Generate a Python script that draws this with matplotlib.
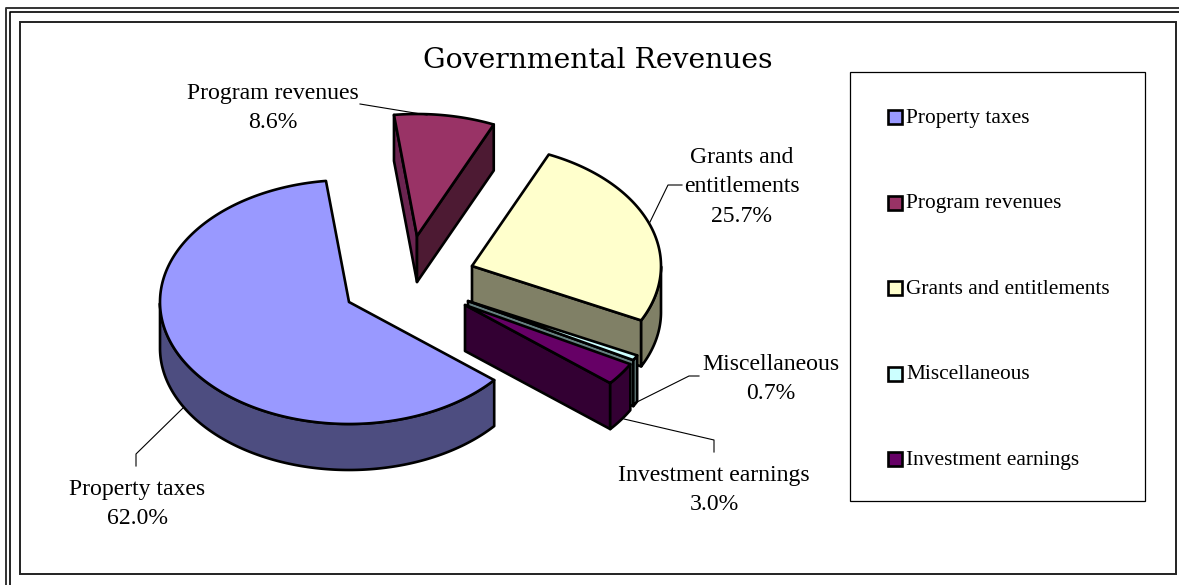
import numpy as np
import matplotlib
matplotlib.use("Agg")
import matplotlib.pyplot as plt
from matplotlib.patches import Polygon, Rectangle

# Dados
categorias = ["Property taxes", "Program revenues", "Grants and entitlements",
              "Miscellaneous", "Investment earnings"]
rotulos = ["Property taxes", "Program revenues", "Grants and\nentitlements",
           "Miscellaneous", "Investment earnings"]
valores = [62.0, 8.6, 25.7, 0.7, 3.0]

# Cores
cor_topo = ["#9999FF", "#993366", "#FFFFCC", "#CCFFFF", "#660066"]
cor_lado = ["#4D4D80", "#4D1A33", "#808066", "#668080", "#330033"]
cor_lado_esq = ["#4D4D80", "#6B2450", "#808066", "#668080", "#330033"]

# Geometria do pie (pixeis)
centros = [(349, 302), (417, 236), (472, 266), (468, 301), (465, 305)]
a = 189
b = 122
prof = 46
inicio = 97 + 223.2

# Posicao dos rotulos e linhas
pos_rotulos = [(137, 504), (273, 108), (742, 187), (771, 379), (714, 490)]
guias = [
    [(183, 408), (136, 454), (136, 466)],
    [(360, 104), (427, 115)],
    [(650, 222), (668, 185), (682, 185)],
    [(633, 404), (689, 376), (699, 376)],
    [(624, 419), (714, 440), (714, 452)],
]

fig = plt.figure(figsize=(11.79, 5.85), dpi=100)
ax = fig.add_axes([0, 0, 1, 1])
ax.set_xlim(0, 1179)
ax.set_ylim(585, 0)
ax.axis("off")
plt.rcParams["font.family"] = ["Liberation Serif"]


def ponto(c, t):
    return c[0] + a * np.cos(np.radians(t)), c[1] - b * np.sin(np.radians(t))


def poligono(xs, ys, cor):
    ax.add_patch(Polygon(np.column_stack([xs, ys]), closed=True, facecolor=cor,
                         edgecolor="black", linewidth=1.9, joinstyle="round"))


# Molduras
ax.plot([6, 6, 1179], [585, 8, 8], color="#333333", lw=1.4)
ax.plot([9.5, 9.5, 1179], [585, 11.5, 11.5], color="black", lw=1.2)
ax.add_patch(Rectangle((20, 22), 1156, 552, facecolor="white",
                       edgecolor="#222222", linewidth=1.4))

# Fatias (sentido horario)
ang = inicio
for i, v in enumerate(valores):
    alto = ang
    baixo = ang - v * 3.6
    ang = baixo
    c = centros[i]

    # face radial do lado alto
    if np.sin(np.radians(alto + 90)) < 0:
        x, y = ponto(c, alto)
        poligono([c[0], x, x, c[0]], [c[1], y, y + prof, c[1] + prof], cor_lado_esq[i])
    # face radial do lado baixo
    if np.sin(np.radians(baixo - 90)) < 0:
        x, y = ponto(c, baixo)
        poligono([c[0], x, x, c[0]], [c[1], y, y + prof, c[1] + prof], cor_lado[i])

    t = np.linspace(baixo, alto, 300)
    # parede exterior
    t_vis = t[np.sin(np.radians(t)) < 0]
    if len(t_vis) > 0:
        x, y = ponto(c, t_vis)
        poligono(np.r_[x, x[::-1]], np.r_[y, y[::-1] + prof], cor_lado[i])

    # topo
    x, y = ponto(c, t)
    poligono(np.r_[c[0], x], np.r_[c[1], y], cor_topo[i])

# Linhas guia
for g in guias:
    g = np.array(g)
    ax.plot(g[:, 0], g[:, 1], color="black", lw=0.8)

# Rotulos
for i, v in enumerate(valores):
    ax.text(pos_rotulos[i][0], pos_rotulos[i][1], "%s\n%.1f%%" % (rotulos[i], v),
            ha="center", va="center", fontsize=17.1, family="Liberation Serif",
            color="black", linespacing=1.56)

# Titulo
ax.text(598, 60, "Governmental Revenues", ha="center", va="center",
        fontsize=20.3, family="DejaVu Serif", color="black")

# Legenda
ax.add_patch(Rectangle((850, 72), 295, 429, facecolor="white",
                       edgecolor="black", linewidth=0.9))
for i, nome in enumerate(categorias):
    y = 117 + i * 85.5
    ax.add_patch(Rectangle((888, y - 7), 14, 14, facecolor=cor_topo[i],
                           edgecolor="black", linewidth=1.9))
    ax.text(906, y + 1, nome, ha="left", va="center", fontsize=15.4,
            family="Liberation Serif", color="black")

fig.savefig("out.png", dpi=100)
